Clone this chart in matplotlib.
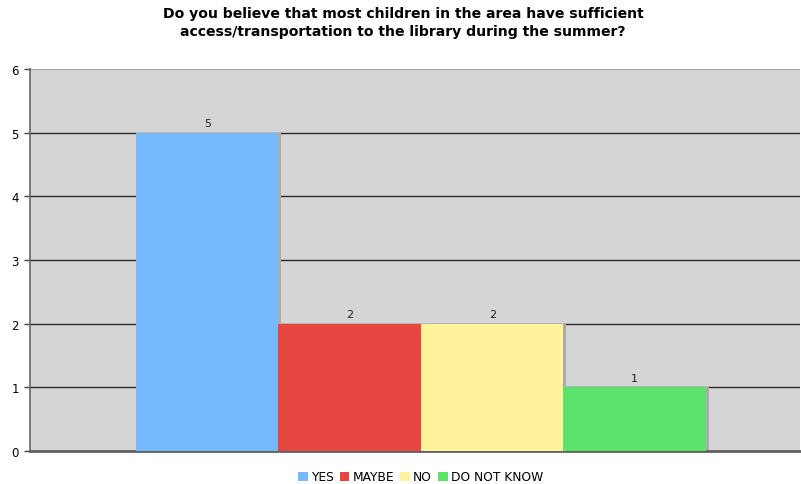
import matplotlib
matplotlib.use("Agg")
import matplotlib.pyplot as plt
from matplotlib.patches import Rectangle, Patch

categories = ["YES", "MAYBE", "NO", "DO NOT KNOW"]
values = [5, 2, 2, 1]
colors = ["#75b9ff", "#e74641", "#fff49b", "#5be36b"]
yticks = [0, 1, 2, 3, 4, 5, 6]
title = ("Do you believe that most children in the area have sufficient\n"
         "access/transportation to the library during the summer?")

plt.rcParams["font.family"] = ["DejaVu Sans"]

fig = plt.figure(figsize=(8.01, 4.85), dpi=100)
ax = fig.add_axes([30 / 801, 1 - 452 / 485, 770 / 801, 382 / 485])
ax.set_facecolor("#d5d5d5")

x = list(range(len(categories)))
# grey drop shadow to the right of each bar
for xi, v in zip(x, values):
    ax.add_patch(Rectangle((xi - 0.5 + 0.02, 0), 1.0, v, facecolor="#ababab",
                           edgecolor="none", zorder=2))
bars = ax.bar(x, values, width=1.0, color=colors, edgecolor="none", zorder=3)
for xi, v in zip(x, values):
    ax.text(xi, v + 0.07, str(v), ha="center", va="bottom", fontsize=8,
            color="#222222", zorder=4)

ax.set_xlim(-1.244, 4.16)
ax.set_ylim(0, 6)
ax.set_yticks(yticks)
ax.set_xticks([])
# horizontal gridlines for the inner ticks; the top edge is a lighter rule
for t in yticks[1:-1]:
    ax.axhline(t, color="#2a2a2a", linewidth=1.0, zorder=1)
ax.axhline(yticks[-1], color="#a0a0a0", linewidth=1.5, zorder=1)
ax.tick_params(axis="y", length=4, width=1, color="#444444", labelsize=8.5, pad=4)
for s in ("top", "right"):
    ax.spines[s].set_visible(False)
ax.spines["left"].set_color("#666666")
ax.spines["bottom"].set_color("#606060")
ax.spines["bottom"].set_linewidth(2)
ax.spines["left"].set_linewidth(1.2)

fig.text(0.503, 1 - 23 / 485, title, ha="center", va="center", fontsize=10.1,
         fontweight="bold", linespacing=1.3)

handles = [Patch(facecolor=c, edgecolor="none") for c in colors]
fig.legend(handles, categories, loc="center", bbox_to_anchor=(0.525, 1 - 478 / 485),
           ncol=4, frameon=False, fontsize=8.8, handlelength=0.8, handleheight=0.8,
           handletextpad=0.25, columnspacing=0.5)

fig.savefig("out.png", dpi=100)
